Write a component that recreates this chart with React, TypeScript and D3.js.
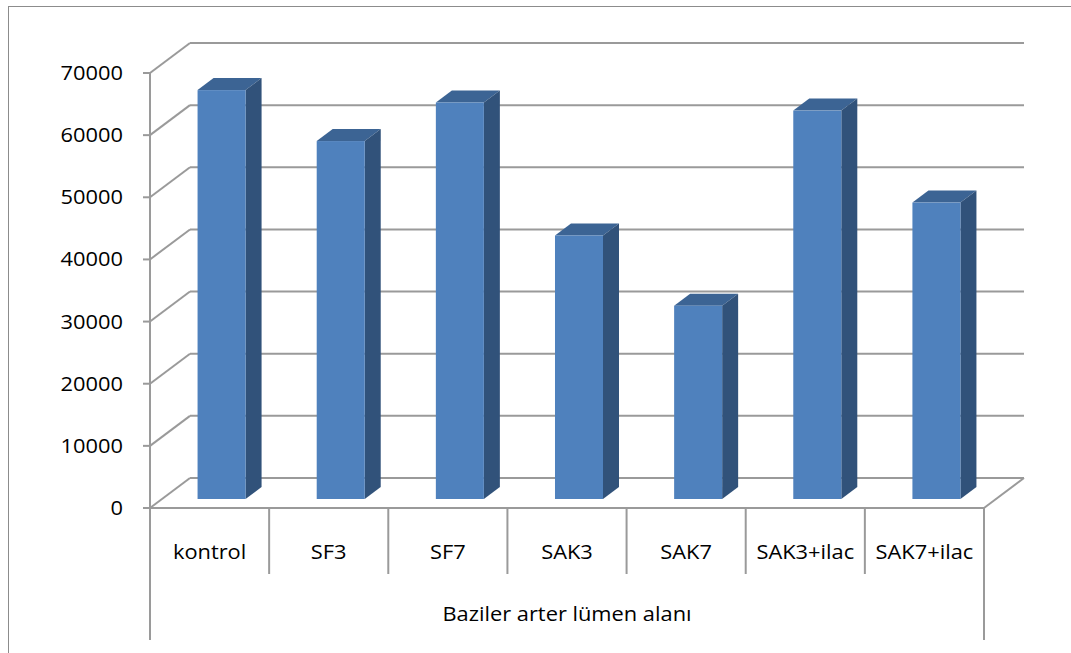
import React from "react";
import * as d3 from "d3";

const categories = ["kontrol", "SF3", "SF7", "SAK3", "SAK7", "SAK3+ilac", "SAK7+ilac"];
const values = [65800, 57600, 63800, 42400, 31100, 62500, 47700];
const yTicks = [0, 10000, 20000, 30000, 40000, 50000, 60000, 70000];
const axisTitle = "Baziler arter lümen alanı";

const W = 1071;
const H = 653;
const left = 150;
const right = 984;
const y0 = 508;
const yTop = 73;
const DX = 40;
const DY = -30;
const FONT = "'Open Sans', sans-serif";
const SX = 1.12;
const FS = 19.5;

export default function App() {
  const x = d3.scaleBand<string>().domain(categories).range([left, right]).padding(0);
  const y = d3.scaleLinear().domain([0, 70000]).range([y0, yTop]);
  const step = x.step();
  const barW = step * 0.403;
  const f0 = 0.3;
  const f1 = 0.7;
  const grid = "#9a9a9a";

  const poly = (pts: [number, number][]) => pts.map((p) => p.join(",")).join(" ");

  return (
    <svg width={W} height={H} style={{ position: "absolute", left: 0, top: 0 }}>
      <rect x={0} y={0} width={W} height={H} fill="#fff" />
      <rect x={8.5} y={6.5} width={1080} height={700} fill="none" stroke="#8c8c8c" strokeWidth={1} />
      {/* gridlines */}
      {yTicks.map((t) => {
        const yy = y(t);
        return (
          <g key={t}>
            <line x1={left} y1={yy} x2={left + DX} y2={yy + DY} stroke={grid} strokeWidth={2} />
            <line x1={left + DX} y1={yy + DY} x2={right + DX} y2={yy + DY} stroke={grid} strokeWidth={2} />
            <line x1={143} y1={yy} x2={left} y2={yy} stroke={grid} strokeWidth={2} />
            <text
              x={0}
              y={0}
              transform={`translate(123,${yy + 7}) scale(${SX},1)`}
              textAnchor="end"
              fontFamily={FONT}
              fontSize={FS}
              fill="#000"
            >
              {t}
            </text>
          </g>
        );
      })}
      {/* floor front and right edges */}
      <line x1={left} y1={y0} x2={right} y2={y0} stroke={grid} strokeWidth={2} />
      <line x1={right} y1={y0} x2={right + DX} y2={y0 + DY} stroke={grid} strokeWidth={2} />
      {/* axis verticals */}
      <line x1={left} y1={yTop} x2={left} y2={640} stroke={grid} strokeWidth={2} />
      <line x1={right} y1={y0} x2={right} y2={640} stroke={grid} strokeWidth={2} />
      {categories.slice(1).map((c) => (
        <line key={c} x1={x(c)!} y1={y0} x2={x(c)!} y2={574} stroke={grid} strokeWidth={2} />
      ))}
      {/* bars */}
      {categories.map((c, i) => {
        const cx = x(c)! + step / 2;
        const xl = cx - barW / 2 + DX * f0;
        const xr = xl + barW;
        const yb = y(0) + DY * f0;
        const yt = y(values[i]) + DY * f0;
        const ddx = DX * (f1 - f0);
        const ddy = DY * (f1 - f0);
        return (
          <g key={c}>
            <polygon points={poly([[xl, yt], [xr, yt], [xr + ddx, yt + ddy], [xl + ddx, yt + ddy]])} fill="#3C6494" />
            <polygon points={poly([[xr, yt], [xr + ddx, yt + ddy], [xr + ddx, yb + ddy], [xr, yb]])} fill="#31527A" />
            <rect x={xl} y={yt} width={barW} height={yb - yt} fill="#4F81BD" />
          </g>
        );
      })}
      {/* category labels */}
      {categories.map((c) => (
        <text
          key={c}
          x={0}
          y={0}
          transform={`translate(${x(c)! + step / 2},${559}) scale(${SX},1)`}
          textAnchor="middle"
          fontFamily={FONT}
          fontSize={FS}
          fill="#000"
        >
          {c}
        </text>
      ))}
      <text
        x={0}
        y={0}
        transform={`translate(${(left + right) / 2},${621}) scale(${SX},1)`}
        textAnchor="middle"
        fontFamily={FONT}
        fontSize={FS}
        fill="#000"
      >
        {axisTitle}
      </text>
    </svg>
  );
}
